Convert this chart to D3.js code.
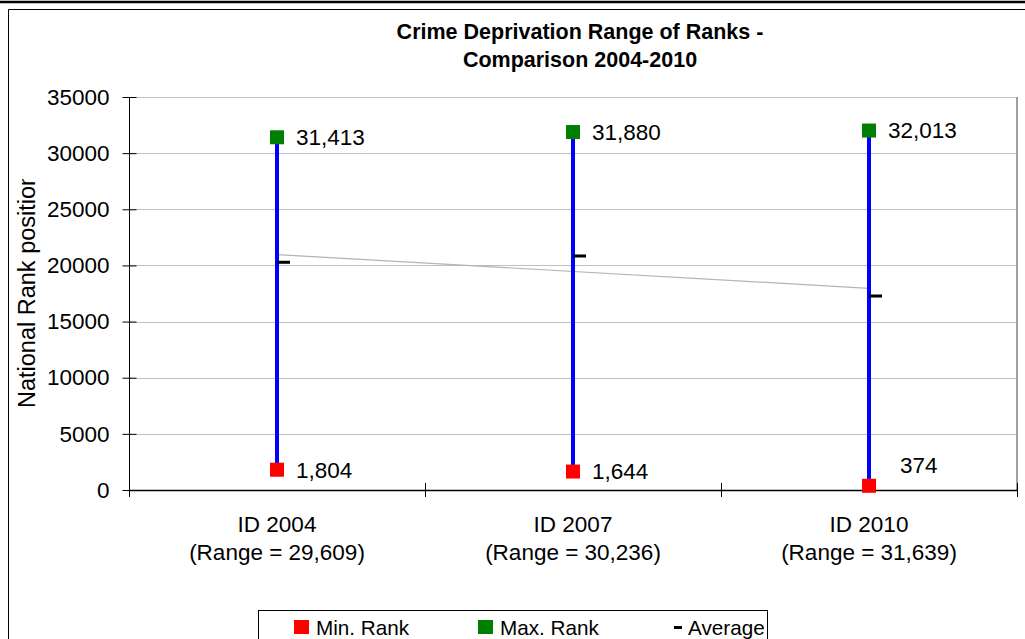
<!DOCTYPE html>
<html><head><meta charset="utf-8">
<script src="https://cdn.jsdelivr.net/npm/d3@7"></script>
<style>
html,body{margin:0;padding:0;background:#fff;}
svg{display:block;font-family:"Liberation Sans",Arial,sans-serif;}
</style></head>
<body>
<svg id="chart" width="1025" height="639"></svg>
<script>
const titleLines = ["Crime Deprivation Range of Ranks -", "Comparison 2004-2010"];
const categories = ["ID 2004", "ID 2007", "ID 2010"];
const minRank = [1804, 1644, 374];
const maxRank = [31413, 31880, 32013];
const avgRank = [20280, 20840, 17277];
const yTicks = [0, 5000, 10000, 15000, 20000, 25000, 30000, 35000];
const yTitle = "National Rank position";
const legendLabels = ["Min. Rank", "Max. Rank", "Average"];

const svg = d3.select("#chart");
const W = 1025, H = 639;
const plot = {l: 129, r: 1017, t: 97, b: 490};

// outer decorations
svg.append("line").attr("x1",0).attr("x2",W).attr("y1",2).attr("y2",2).attr("stroke","#000").attr("stroke-width",2.5);
svg.append("path").attr("d",`M${W},9.5H8.5V${H}`).attr("fill","none").attr("stroke","#000").attr("stroke-width",1);

const x = d3.scaleBand().domain(categories).range([plot.l, plot.r]);
const y = d3.scaleLinear().domain([0, 35000]).range([plot.b, plot.t]);
const cx = c => x(c) + x.bandwidth()/2;

// gridlines
svg.append("g").selectAll("line").data(yTicks.filter(d=>d>0)).join("line")
  .attr("x1", plot.l).attr("x2", plot.r)
  .attr("y1", d=>Math.round(y(d))+0.5).attr("y2", d=>Math.round(y(d))+0.5)
  .attr("stroke","#c0c0c0").attr("stroke-width",1);
// right plot border
svg.append("line").attr("x1",plot.r).attr("x2",plot.r).attr("y1",plot.t).attr("y2",plot.b)
  .attr("stroke","#a0a0a0").attr("stroke-width",2);

// y axis
const yAxis = svg.append("g").attr("transform",`translate(${plot.l+0.5},0)`)
  .call(d3.axisLeft(y).tickValues(yTicks).tickFormat(d3.format("d")).tickSizeOuter(0).tickPadding(14));
yAxis.select(".domain").remove();
yAxis.selectAll(".tick line").attr("x1",-7).attr("x2",7).attr("stroke","#000");
yAxis.selectAll(".tick text").attr("font-size","22.5px").attr("fill","#000")
  .attr("font-family","'Liberation Sans',Arial,sans-serif");
svg.append("line").attr("x1",plot.l+0.5).attr("x2",plot.l+0.5).attr("y1",plot.t).attr("y2",plot.b+7)
  .attr("stroke","#000").attr("stroke-width",1);

// x axis
svg.append("line").attr("x1",plot.l).attr("x2",plot.r).attr("y1",plot.b+0.5).attr("y2",plot.b+0.5)
  .attr("stroke","#000").attr("stroke-width",1.5);
const bounds = categories.map(c=>x(c)).concat([plot.r]);
svg.append("g").selectAll("line").data(bounds).join("line")
  .attr("x1",d=>Math.round(d)+0.5).attr("x2",d=>Math.round(d)+0.5)
  .attr("y1",plot.b-7).attr("y2",plot.b+7).attr("stroke","#000");
const xl = svg.append("g").selectAll("text").data(categories).join("text")
  .attr("x", d=>cx(d)).attr("text-anchor","middle").attr("font-size","22.5px").attr("fill","#000");
xl.append("tspan").attr("x",d=>cx(d)).attr("y",532).text(d=>d);
xl.append("tspan").attr("x",d=>cx(d)).attr("y",560)
  .text((d,i)=>`(Range = ${d3.format(",")(maxRank[i]-minRank[i])})`);

// y axis title (clipped at top as in original)
svg.append("clipPath").attr("id","ytclip").append("rect").attr("x",0).attr("y",179).attr("width",60).attr("height",300);
svg.append("g").attr("clip-path","url(#ytclip)")
  .append("text")
  .attr("transform","translate(35,408) rotate(-90)")
  .attr("font-size","23.5px").attr("fill","#000").text(yTitle);

// title
svg.append("g").selectAll("text").data(titleLines).join("text")
  .attr("x",580).attr("y",(d,i)=>39+i*28).attr("text-anchor","middle")
  .attr("font-size","21.5px").attr("font-weight","bold").attr("fill","#000").text(d=>d);

// trendline (linear fit of averages)
const idx = categories.map((c,i)=>i);
const mx = d3.mean(idx), my = d3.mean(avgRank);
const slope = d3.sum(idx,i=>(i-mx)*(avgRank[i]-my)) / d3.sum(idx,i=>(i-mx)*(i-mx));
const icpt = my - slope*mx;
svg.append("line")
  .attr("x1",cx(categories[0])).attr("y1",y(icpt))
  .attr("x2",cx(categories[2])).attr("y2",y(icpt+slope*2))
  .attr("stroke","#b4b4b4").attr("stroke-width",1.2);

// high-low lines
svg.append("g").selectAll("line").data(categories).join("line")
  .attr("x1",d=>cx(d)).attr("x2",d=>cx(d))
  .attr("y1",(d,i)=>y(minRank[i])).attr("y2",(d,i)=>y(maxRank[i]))
  .attr("stroke","#0000ff").attr("stroke-width",4);

// average dashes
svg.append("g").selectAll("rect").data(categories).join("rect")
  .attr("x",d=>cx(d)).attr("y",(d,i)=>y(avgRank[i])-1.5)
  .attr("width",13).attr("height",3).attr("fill","#000");

// markers
const ms = 14;
svg.append("g").selectAll("rect").data(categories).join("rect")
  .attr("x",d=>cx(d)-ms/2).attr("y",(d,i)=>y(minRank[i])-ms/2)
  .attr("width",ms).attr("height",ms).attr("fill","#ff0000");
svg.append("g").selectAll("rect").data(categories).join("rect")
  .attr("x",d=>cx(d)-ms/2).attr("y",(d,i)=>y(maxRank[i])-ms/2)
  .attr("width",ms).attr("height",ms).attr("fill","#008000");

// data labels
const fmt = d3.format(",");
svg.append("g").selectAll("text").data(categories).join("text")
  .attr("x",d=>cx(d)+19).attr("y",(d,i)=>y(maxRank[i])).attr("dy","0.35em")
  .attr("font-size","22.5px").attr("fill","#000").text((d,i)=>fmt(maxRank[i]));
svg.append("g").selectAll("text").data(categories).join("text")
  .attr("x",(d,i)=>cx(d)+(i===2?31:19))
  .attr("y",(d,i)=>y(minRank[i])+(i===2?-21:0)).attr("dy","0.35em")
  .attr("font-size","22.5px").attr("fill","#000").text((d,i)=>fmt(minRank[i]));

// legend
const lg = svg.append("g");
lg.append("rect").attr("x",258.5).attr("y",610.5).attr("width",509).attr("height",40)
  .attr("fill","#fff").attr("stroke","#000").attr("stroke-width",1);
lg.append("rect").attr("x",294).attr("y",620).attr("width",15).attr("height",14).attr("fill","#ff0000");
lg.append("text").attr("x",316).attr("y",635).attr("font-size","20.7px").text(legendLabels[0]);
lg.append("rect").attr("x",478).attr("y",620).attr("width",15).attr("height",14).attr("fill","#008000");
lg.append("text").attr("x",500).attr("y",635).attr("font-size","20.7px").text(legendLabels[1]);
lg.append("rect").attr("x",674).attr("y",626).attr("width",8).attr("height",3).attr("fill","#000");
lg.append("text").attr("x",688).attr("y",635).attr("font-size","20.7px").text(legendLabels[2]);
</script>
</body></html>
